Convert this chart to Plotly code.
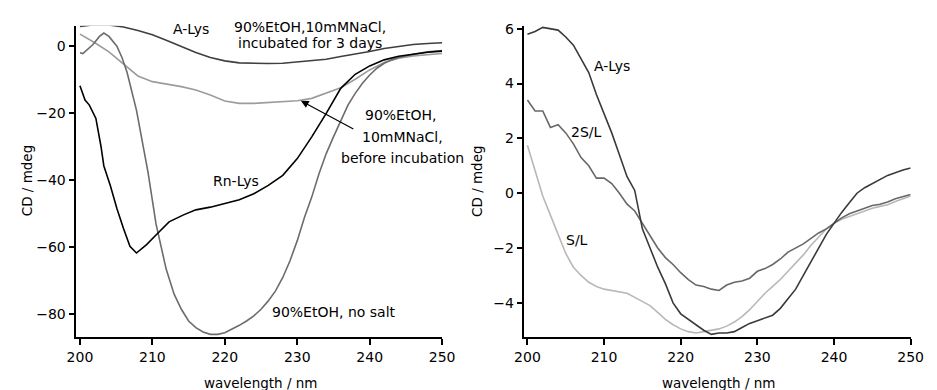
import plotly.graph_objects as go

# ---------------- Left panel data ----------------
wl_alys_l = [200, 202, 204, 206, 208, 210, 212, 214, 216, 218, 220, 222, 224, 226, 228, 230,
             232, 234, 236, 238, 240, 242, 244, 246, 248, 250]
cd_alys_l = [6.0, 6.5, 6.4, 5.8, 4.8, 3.5, 1.8, 0.0, -1.8, -3.3, -4.3, -4.9, -5.1, -5.1, -5.0, -4.6,
             -4.3, -3.8, -3.0, -2.3, -1.5, -0.6, 0.1, 0.6, 0.9, 1.1]

wl_before = [200, 202, 204, 206, 208, 210, 212, 214, 216, 218, 220, 222, 224, 226, 228, 230,
             232, 234, 236, 238, 240, 242, 244, 246, 248, 250]
cd_before = [3.7, 1.2, -1.6, -5.3, -8.8, -10.5, -11.2, -12.0, -13.0, -14.5, -16.3, -17.0, -17.0, -16.8,
             -16.5, -16.2, -15.5, -14.0, -12.3, -9.8, -7.0, -4.8, -3.5, -2.8, -2.4, -2.1]

wl_nosalt = [200, 200.4, 201.8, 202.7, 203.3, 204, 205.1, 205.8, 206.5, 207.1, 207.8, 209.4, 210.5,
             211.9, 213, 214, 215, 216, 217, 218, 219, 220, 221, 222, 223, 224, 225, 226, 227, 228,
             229, 230, 231, 232, 233, 234, 235, 236, 237, 238, 239, 240, 241, 242, 243, 244, 246,
             248, 250]
cd_nosalt = [-1.9, -2.1, 0.6, 3.0, 4.0, 3.0, 0.1, -3.3, -7.7, -13.1, -19.0, -37.6, -53.0, -66.5,
             -74.0, -78.5, -82.0, -84.0, -85.3, -86.0, -86.0, -85.5, -84.5, -83.3, -82.0, -80.5,
             -78.5, -76.0, -73.0, -69.0, -64.0, -58.0, -51.0, -45.0, -38.0, -32.0, -27.0, -22.0,
             -17.5, -14.0, -11.0, -8.5, -6.5, -5.0, -4.0, -3.3, -2.3, -1.6, -1.2]

wl_rnlys = [200, 200.7, 201.3, 201.8, 202.2, 202.9, 203.3, 204.2, 205.1, 206, 206.9, 207.8, 209.2,
            210.5, 212.3, 214.3, 216, 218, 220, 222, 224, 226, 228, 230, 232, 234, 236, 238, 240,
            242, 244, 246, 248, 250]
cd_rnlys = [-11.7, -16.0, -17.5, -20.0, -21.5, -29.8, -35.7, -41.6, -48.4, -54.3, -59.7, -61.7,
            -59.2, -56.3, -52.4, -50.3, -48.8, -48.0, -47.0, -45.8, -44.0, -41.5, -38.5, -33.5,
            -27.0, -20.0, -12.5, -8.3, -5.8, -4.0, -2.9, -2.2, -1.7, -1.4]

# ---------------- Right panel data ----------------
wl_r = [200, 201, 202, 203, 204, 205, 206, 207, 208, 209, 210, 211, 212, 213, 214, 215, 216, 217,
        218, 219, 220, 221, 222, 223, 224, 225, 226, 227, 228, 229, 230, 231, 232, 233, 234, 235,
        236, 237, 238, 239, 240, 241, 242, 243, 244, 245, 246, 247, 248, 249, 250]
cd_alys_r = [5.8, 5.9, 6.05, 6.0, 5.95, 5.7, 5.4, 4.9, 4.4, 3.6, 2.9, 2.2, 1.4, 0.6, 0.1, -1.3,
             -2.0, -2.7, -3.3, -4.0, -4.4, -4.6, -4.8, -5.0, -5.15, -5.1, -5.1, -5.05, -4.9, -4.75,
             -4.65, -4.55, -4.45, -4.2, -3.85, -3.5, -3.0, -2.5, -2.0, -1.5, -1.1, -0.7, -0.35,
             0.0, 0.2, 0.35, 0.5, 0.65, 0.75, 0.85, 0.92]
cd_2sl = [3.4, 3.0, 3.0, 2.4, 2.5, 2.2, 1.8, 1.3, 1.0, 0.55, 0.55, 0.35, 0.0, -0.4, -0.65, -1.1,
          -1.6, -2.0, -2.35, -2.6, -2.9, -3.15, -3.35, -3.4, -3.5, -3.55, -3.35, -3.25, -3.2, -3.1,
          -2.85, -2.75, -2.6, -2.4, -2.15, -2.0, -1.85, -1.65, -1.45, -1.3, -1.1, -0.9, -0.75,
          -0.65, -0.55, -0.45, -0.4, -0.32, -0.2, -0.12, -0.05]
cd_sl = [1.75, 0.8, -0.1, -0.8, -1.5, -2.2, -2.7, -3.0, -3.25, -3.4, -3.5, -3.55, -3.6, -3.65,
         -3.8, -3.95, -4.1, -4.35, -4.6, -4.8, -4.95, -5.05, -5.1, -5.05, -5.0, -4.95, -4.85, -4.7,
         -4.5, -4.25, -3.95, -3.65, -3.4, -3.15, -2.85, -2.55, -2.25, -1.9, -1.6, -1.3, -1.1,
         -0.95, -0.85, -0.75, -0.65, -0.55, -0.48, -0.42, -0.3, -0.2, -0.1]

x_ticks = [200, 210, 220, 230, 240, 250]
y_ticks_l = [0, -20, -40, -60, -80]
y_ticks_r = [6, 4, 2, 0, -2, -4]

W, H = 937, 390
FONT = "DejaVu Sans, Liberation Sans, sans-serif"

fig = go.Figure()

def line(x, y, color, xa="x", ya="y", width=1.6):
    fig.add_trace(go.Scatter(x=x, y=y, mode="lines", line=dict(color=color, width=width),
                             xaxis=xa, yaxis=ya, showlegend=False, hoverinfo="skip"))

line(wl_alys_l, cd_alys_l, "#3f3f3f")
line(wl_before, cd_before, "#9c9c9c")
line(wl_nosalt, cd_nosalt, "#6c6c6c")
line(wl_rnlys, cd_rnlys, "#000000")

line(wl_r, cd_sl, "#b8b8b8", "x2", "y2")
line(wl_r, cd_2sl, "#686868", "x2", "y2")
line(wl_r, cd_alys_r, "#3a3a3a", "x2", "y2")

axis_common = dict(showline=True, linecolor="black", linewidth=1.5, ticks="outside",
                   ticklen=6, tickwidth=1.5, tickcolor="black", showgrid=False, zeroline=False,
                   tickfont=dict(family=FONT, size=14, color="black"))

def px(xp, yp):
    return xp / W, 1 - yp / H

yd = [1 - 336.7 / H, 1 - 21 / H]
fig.update_layout(
    width=W, height=H, margin=dict(l=0, r=0, t=0, b=0),
    paper_bgcolor="white", plot_bgcolor="white",
    xaxis=dict(domain=[68 / W, 443 / W], range=[199.5, 250], tickvals=x_ticks, anchor="y",
               **axis_common),
    yaxis=dict(domain=yd, range=[-86.9, 6.2], tickvals=y_ticks_l, anchor="x", **axis_common),
    xaxis2=dict(domain=[527.3 / W, 923.3 / W], range=[199.6, 250], tickvals=x_ticks, anchor="y2",
                **axis_common),
    yaxis2=dict(domain=yd, range=[-5.26, 6.11], tickvals=y_ticks_r, anchor="x2", **axis_common),
)

texts = [
    (186, 24, "A-Lys", 14),
    (308, 22, "90%EtOH,10mMNaCl,", 14),
    (308, 39, "incubated for 3 days", 14),
    (400, 111, "90%EtOH,", 14),
    (402, 134, "10mMNaCl,", 14),
    (402, 155, "before incubation", 14),
    (232, 178, "Rn-Lys", 14),
    (332, 311, "90%EtOH, no salt", 14),
    (617, 62, "A-Lys", 14),
    (591, 129, "2S/L", 14),
    (581, 238, "S/L", 14),
    (257, 383, "wavelength / nm", 13.5),
    (726, 383, "wavelength / nm", 13.5),
]
anns = []
for xp, yp, t, fs in texts:
    x, y = px(xp, yp)
    anns.append(dict(x=x, y=y, xref="paper", yref="paper", text=t, showarrow=False,
                     xanchor="center", yanchor="middle",
                     font=dict(family=FONT, size=fs, color="black")))
for xp in (17, 478):
    x, y = px(xp, 178)
    anns.append(dict(x=x, y=y, xref="paper", yref="paper", text="CD / mdeg", showarrow=False,
                     textangle=-90, xanchor="center", yanchor="middle",
                     font=dict(family=FONT, size=13.5, color="black")))
# arrow pointing to the "before incubation" curve
anns.append(dict(x=230.5, y=-16.2, xref="x", yref="y", ax=54, ay=29, text="", showarrow=True,
                 arrowhead=2, arrowsize=1.3, arrowwidth=1.2, arrowcolor="black"))
fig.update_layout(annotations=anns)

fig.write_html("out.html", config={"responsive": False, "displayModeBar": False},
               post_script="document.body.style.margin='0';document.body.style.overflow='hidden';")
